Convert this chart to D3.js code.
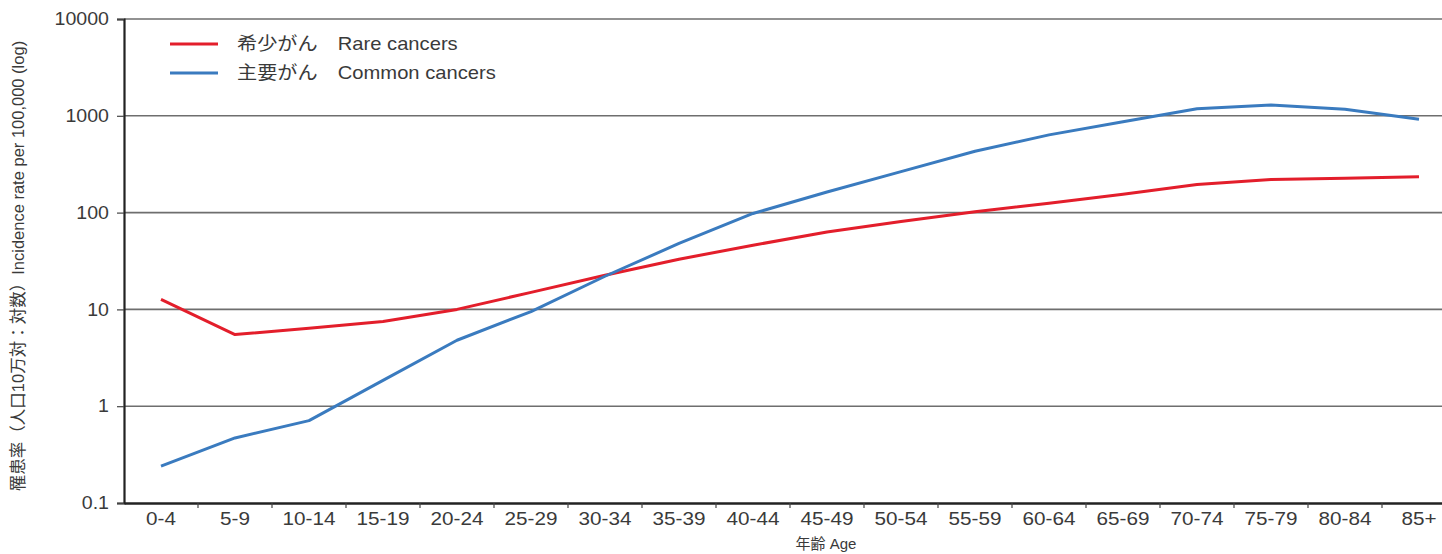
<!DOCTYPE html>
<html><head><meta charset="utf-8">
<script src="https://cdn.jsdelivr.net/npm/d3@7"></script>
<style>body{margin:0;background:#fff}svg{display:block}</style>
</head><body>
<svg id="c" width="1442" height="554"></svg>
<script>
const ageGroups = ["0-4","5-9","10-14","15-19","20-24","25-29","30-34","35-39","40-44","45-49","50-54","55-59","60-64","65-69","70-74","75-79","80-84","85+"];
const rareCancers = [12.7,5.5,6.4,7.5,10,15,22.5,33,46,63,81,102,125,155,195,220,226,235];
const commonCancers = [0.24,0.47,0.71,1.85,4.8,9.5,22,48,98,163,265,430,635,870,1180,1290,1170,920];
const yTicks = [0.1,1,10,100,1000,10000];
const seriesNames = ["希少がん　Rare cancers","主要がん　Common cancers"];
const seriesColors = ["#e31e2b","#3a7bbf"];

const FONT = "Liberation Sans, Arial, Noto Sans CJK JP, sans-serif";
const svg = d3.select("#c");
const x = d3.scaleBand().domain(ageGroups).range([124,1456]).padding(0);
const y = d3.scaleLog().domain([0.1,10000]).range([503,19]);

// gridlines
svg.append("g").selectAll("line").data(yTicks.slice(1)).join("line")
  .attr("x1",124).attr("x2",1442).attr("y1",d=>y(d)).attr("y2",d=>y(d))
  .attr("stroke","#6e6e6e").attr("stroke-width",1.6);

// y axis
const ya = svg.append("g").attr("transform","translate(124,0)")
  .call(d3.axisLeft(y).tickValues(yTicks).tickFormat(d=>String(d)).tickSize(7).tickPadding(15));
ya.select(".domain").attr("stroke","#222").attr("stroke-width",2.2);
ya.selectAll(".tick line").attr("stroke","#444").attr("stroke-width",1.2);
ya.selectAll("text").attr("font-family",FONT).attr("font-size",17.5).attr("fill","#3a3a3a")
  .attr("x",-15/1.12).attr("transform","scale(1.12,1)");

// x axis
const xa = svg.append("g").attr("transform","translate(0,503)")
  .call(d3.axisBottom(x).tickSize(0).tickPadding(9));
xa.select(".domain").attr("stroke","#222").attr("stroke-width",2.4);
xa.selectAll("text").attr("font-family",FONT).attr("font-size",18).attr("fill","#3a3a3a")
  .attr("transform","scale(1.15,1)");
svg.append("g").selectAll("line").data(ageGroups.slice(1)).join("line")
  .attr("x1",d=>x(d)).attr("x2",d=>x(d)).attr("y1",503).attr("y2",508)
  .attr("stroke","#444").attr("stroke-width",1.2);

// lines
const line = d3.line().x((d,i)=>x(ageGroups[i])+x.bandwidth()/2).y(d=>y(d)).curve(d3.curveLinear);
[rareCancers, commonCancers].forEach((s,k)=>{
  svg.append("path").datum(s).attr("d",line).attr("fill","none")
    .attr("stroke",seriesColors[k]).attr("stroke-width",3).attr("stroke-linejoin","round");
});

// legend
seriesNames.forEach((n,k)=>{
  const ly = 44 + k*29;
  svg.append("line").attr("x1",170).attr("x2",218).attr("y1",ly).attr("y2",ly)
    .attr("stroke",seriesColors[k]).attr("stroke-width",3.2);
  svg.append("text").attr("x",237/1.12).attr("y",ly+6).text(n)
    .attr("transform","scale(1.12,1)")
    .attr("font-family",FONT).attr("font-size",18).attr("fill","#3a3a3a");
});

// axis titles
svg.append("text").attr("transform","translate(24,266) rotate(-90)").attr("text-anchor","middle")
  .text("罹患率（人口10万対：対数）Incidence rate per 100,000 (log)")
  .attr("font-family",FONT).attr("font-size",16.5).attr("fill","#3a3a3a");
svg.append("text").attr("x",826).attr("y",549).attr("text-anchor","middle").text("年齢 Age")
  .attr("font-family",FONT).attr("font-size",15).attr("fill","#3a3a3a");
</script>
</body></html>
